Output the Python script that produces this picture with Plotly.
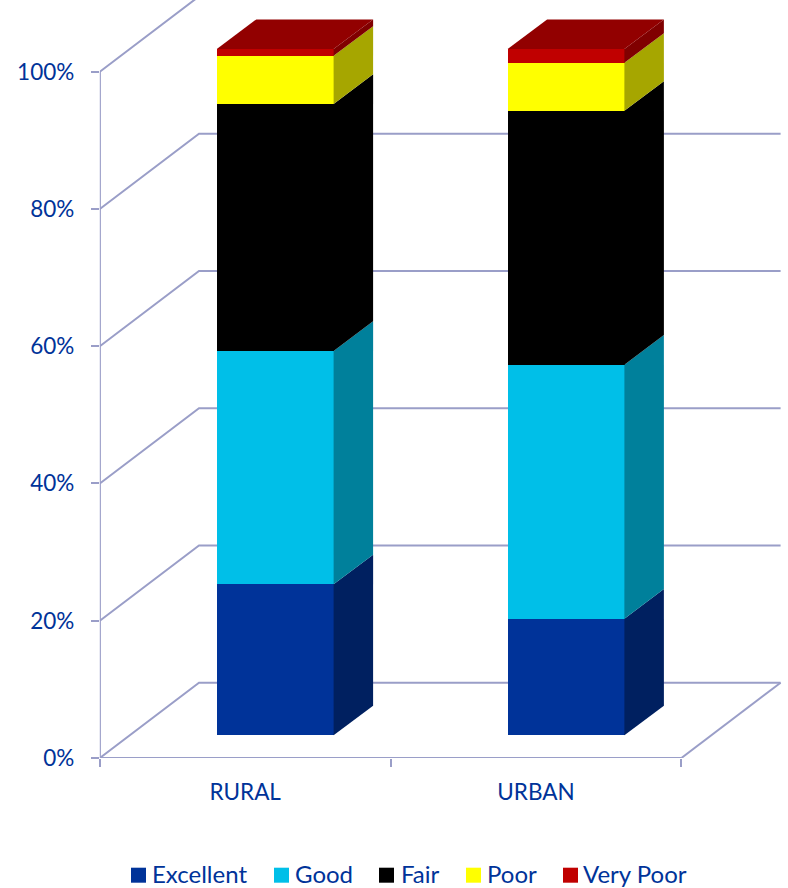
import plotly.graph_objects as go

# ---- data (percent of respondents) ----
categories = ["RURAL", "URBAN"]
series_names = ["Excellent", "Good", "Fair", "Poor", "Very Poor"]
excellent = [22.0, 17.0]
good = [34.0, 37.0]
fair = [36.0, 37.0]
poor = [7.0, 7.0]
very_poor = [1.0, 2.0]
series_values = [excellent, good, fair, poor, very_poor]
y_ticks = [0, 20, 40, 60, 80, 100]

# ---- styles ----
front_colors = ["#003399", "#00BFE8", "#000000", "#FFFF00", "#C00000"]
side_colors = ["#002060", "#00809B", "#000000", "#A6A600", "#800000"]
top_color = "#920000"
grid_color = "#9A9EC8"
text_color = "#003399"
font_family = "Lato, 'Open Sans', sans-serif"

# ---- geometry of the fake-3D projection ----
W, H = 788, 888
px_x0, px_unit = 99.8, 290.8      # pixel of x=0, pixels per category
px_y0, px_pct = 758.0, 6.863      # pixel of 0%, pixels per percent
wall_dx = 99.2 / px_unit          # depth of the box, x units
wall_dy = 75.3 / px_pct           # depth of the box, percent
bar_shift = 30.0 / px_unit        # bar centre relative to category centre
bar_lift = 22.7 / px_pct          # front face of the bars above the floor
bar_width = 116.8 / px_unit
bar_dx = 39.5 / px_unit
bar_dy = 29.6 / px_pct

# hand-placed legend, as in the reference (left edge of swatch, left edge of label), pixels
legend_swatch_px = [131, 274, 379, 466, 563]
legend_text_px = [152.5, 295.5, 401.5, 487.5, 584]
legend_y_px = 875.2
legend_text_y_px = 873.4
swatch_px = 15

x_max = (W - px_x0) / px_unit
y_max = px_y0 / px_pct
dom_x = [px_x0 / W, 1]
dom_y = [(H - px_y0) / H, 1]

fig = go.Figure()


def line(xs, ys, width=2):
    fig.add_trace(go.Scatter(x=xs, y=ys, mode="lines", showlegend=False, hoverinfo="skip",
                             line=dict(color=grid_color, width=width), cliponaxis=True))


n = len(categories)
# back wall gridlines and their diagonals on the side wall
for t in y_ticks:
    line([0, wall_dx, n + wall_dx], [t, t + wall_dy, t + wall_dy])
# floor outline, front axis lines
line([n, n + wall_dx], [0, wall_dy])
line([0, n], [0, 0], 2.2)
line([0, 0], [0, 100], 2.2)

centers = [i + 0.5 + bar_shift for i in range(n)]

# front faces: real stacked bars on an overlaying axis whose zero sits at the bars' base
for name, vals, col in zip(series_names, series_values, front_colors):
    fig.add_trace(go.Bar(x=centers, y=vals, name=name, width=bar_width, yaxis="y2",
                         marker=dict(color=col, line=dict(width=0)), showlegend=False))

# side faces and tops, derived from the same values
for i, c in enumerate(centers):
    right = c + bar_width / 2
    left = c - bar_width / 2
    base = 0.0
    for vals, col in zip(series_values, side_colors):
        v = vals[i]
        fig.add_trace(go.Scatter(
            x=[right, right + bar_dx, right + bar_dx, right, right],
            y=[base, base + bar_dy, base + v + bar_dy, base + v, base],
            yaxis="y2", mode="lines", fill="toself", fillcolor=col,
            line=dict(width=0), showlegend=False, hoverinfo="skip", cliponaxis=False))
        base += v
    fig.add_trace(go.Scatter(
        x=[left, left + bar_dx, right + bar_dx, right, left],
        y=[base, base + bar_dy, base + bar_dy, base, base],
        yaxis="y2", mode="lines", fill="toself", fillcolor=top_color,
        line=dict(width=0), showlegend=False, hoverinfo="skip", cliponaxis=False))

# legend: square swatch + label per series
shapes, annotations = [], []
for name, col, sx, tx in zip(series_names, front_colors, legend_swatch_px, legend_text_px):
    shapes.append(dict(type="rect", xref="paper", yref="paper", line=dict(width=0), fillcolor=col,
                       x0=sx / W, x1=(sx + swatch_px) / W,
                       y0=1 - (legend_y_px + swatch_px / 2) / H,
                       y1=1 - (legend_y_px - swatch_px / 2) / H))
    annotations.append(dict(text=name, xref="paper", yref="paper", showarrow=False,
                            x=tx / W, xanchor="left", xshift=-2, borderpad=0,
                            y=1 - legend_text_y_px / H, yanchor="middle",
                            font=dict(size=24, color=text_color, family=font_family)))

fig.update_layout(
    width=W, height=H, autosize=False,
    margin=dict(l=0, r=0, t=0, b=0, autoexpand=False),
    paper_bgcolor="white", plot_bgcolor="white",
    barmode="stack", bargap=0,
    font=dict(family=font_family, color=text_color, size=22),
    xaxis=dict(
        domain=dom_x, range=[0, x_max], showgrid=False, zeroline=False, showline=False,
        tickmode="array", tickvals=[i + 0.5 for i in range(n)], ticktext=categories,
        ticks="", ticklen=0, ticklabelstandoff=18,
        tickfont=dict(size=22.5, color=text_color, family=font_family),
        minor=dict(tickmode="array", tickvals=list(range(n + 1)), ticks="outside",
                   ticklen=8, tickwidth=2, tickcolor=grid_color, showgrid=False),
    ),
    yaxis=dict(
        domain=dom_y, range=[0, y_max], showgrid=False, zeroline=False, showline=False,
        tickmode="array", tickvals=y_ticks, ticktext=[f"{t}%" for t in y_ticks],
        ticks="outside", ticklen=8, tickwidth=2, tickcolor=grid_color, ticklabelstandoff=12,
        tickfont=dict(size=22.5, color=text_color, family=font_family),
    ),
    yaxis2=dict(
        domain=dom_y, range=[-bar_lift, y_max - bar_lift], overlaying="y", visible=False,
    ),
    showlegend=False,
    shapes=shapes,
    annotations=annotations,
)

fig.write_html("out.html", config={"displayModeBar": False},
               post_script="document.body.style.margin='0';")
